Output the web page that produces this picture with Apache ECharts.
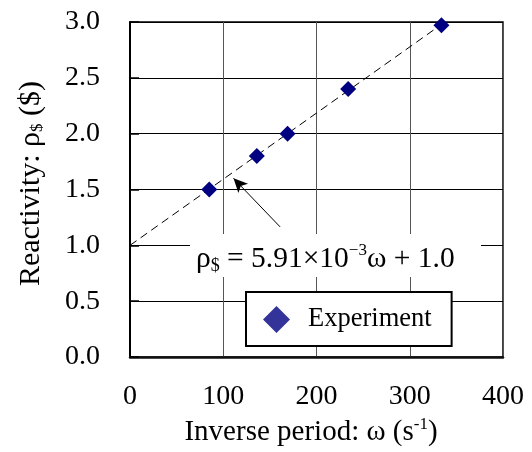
<!DOCTYPE html>
<html>
<head>
<meta charset="utf-8">
<script src="https://cdn.jsdelivr.net/npm/echarts@6/dist/echarts.min.js"></script>
<style>
    html, body { margin: 0; padding: 0; background: #fff; }
    #chart { width: 532px; height: 452px; }
</style>
</head>
<body>
<div id="chart"></div>
<script>
// data
const omega = [85, 136, 169, 234, 334];
const rho = [1.50, 1.80, 2.00, 2.40, 2.97];
// fitted line: rho = 5.91e-3 * omega + 1.0, drawn from its ends
const fitLine = [[0, 1.0], [336, 2.99]];
// arrow from the equation to the line
const arrowFrom = [161, 1.165];
const arrowTo = [111, 1.60];
const xTicks = [0, 100, 200, 300, 400];
const yTicks = [0, 0.5, 1.0, 1.5, 2.0, 2.5, 3.0];

const FONT = "Liberation Serif";

let chart = echarts.init(document.getElementById("chart"));

chart.setOption({
    animation: false,
    textStyle: { fontFamily: FONT, color: "#000" },
    grid: {
        left: 130, right: 29, top: 22, bottom: 95,
        show: true, borderColor: "#000", borderWidth: 1.5, backgroundColor: "transparent"
    },
    xAxis: {
        type: "value",
        min: xTicks[0], max: xTicks[xTicks.length - 1], interval: 100,
        name: "{t|Inverse period: ω (s}{sup|-1}{t|)}",
        nameLocation: "middle",
        nameGap: 58,
        nameTextStyle: {
            padding: [0, 11, 0, 0],
            rich: {
                t: { fontFamily: FONT, fontSize: 29, color: "#000" },
                sup: { fontFamily: FONT, fontSize: 17, color: "#000", verticalAlign: "top", padding: [0, 0, 15, 0] }
            }
        },
        axisLine: { lineStyle: { color: "#111", width: 2.5 } },
        axisTick: { show: false },
        axisLabel: { fontFamily: FONT, fontSize: 28, color: "#000", margin: 26 },
        splitLine: { lineStyle: { color: "#555", width: 1 } }
    },
    yAxis: {
        type: "value",
        min: yTicks[0], max: yTicks[yTicks.length - 1], interval: 0.5,
        name: "{t|Reactivity: ρ}{sub|$}{t| ($)}",
        nameLocation: "middle",
        nameGap: 84,
        nameTextStyle: {
            padding: [0, 0, 0, 12],
            rich: {
                t: { fontFamily: FONT, fontSize: 30, color: "#000" },
                sub: { fontFamily: FONT, fontSize: 17, color: "#000", verticalAlign: "bottom", padding: [10, 0, 0, 0] }
            }
        },
        axisLine: { show: true, lineStyle: { color: "#000", width: 2 } },
        axisTick: { show: true, inside: true, length: 9, lineStyle: { color: "#000", width: 1.5 } },
        axisLabel: { fontFamily: FONT, fontSize: 28, color: "#000", margin: 30, formatter: v => v.toFixed(1) },
        splitLine: { lineStyle: { color: "#000", width: 1 } }
    },
    legend: {
        data: [{ name: "Experiment", icon: "diamond", itemStyle: { color: "#333399", opacity: 1 } }],
        left: 246, top: 292,
        orient: "horizontal",
        itemWidth: 27, itemHeight: 27,
        padding: [14, 20, 13, 17],
        backgroundColor: "#fff",
        borderColor: "#000", borderWidth: 2,
        textStyle: { fontFamily: FONT, fontSize: 26.5, color: "#000", padding: [0, 0, 0, 13] }
    },
    graphic: [
        {
            type: "rect", z: 50,
            shape: { x: 190, y: 234, width: 291, height: 43 },
            style: { fill: "#fff" }
        },
        {
            type: "text", z: 51,
            x: 196, y: 259,
            style: {
                text: "{t|ρ}{sub|$}{t| = 5.91×10}{sup|−3}{t|ω + 1.0}",
                verticalAlign: "middle",
                rich: {
                    t: { fontFamily: FONT, fontSize: 29.5, fill: "#000" },
                    sub: { fontFamily: FONT, fontSize: 18, fill: "#000", verticalAlign: "bottom", padding: [12, 0, 0, 0] },
                    sup: { fontFamily: FONT, fontSize: 17, fill: "#000", verticalAlign: "top", padding: [0, 0, 16, 0] }
                }
            }
        }
    ],
    series: [
        {
            name: "fit",
            type: "line",
            data: fitLine,
            symbol: "none",
            silent: true,
            lineStyle: { color: "#000", width: 1, type: [8, 5] },
            markLine: {
                silent: true,
                symbol: ["none", "arrow"],
                symbolSize: [10, 14],
                label: { show: false },
                lineStyle: { color: "#000", width: 1, type: "solid" },
                data: [[{ coord: arrowFrom }, { coord: arrowTo }]]
            }
        },
        {
            name: "Experiment",
            type: "scatter",
            data: omega.map((w, i) => [w, rho[i]]),
            symbol: "diamond",
            symbolSize: 16,
            itemStyle: { color: "#000080", opacity: 1 },
            z: 5
        }
    ]
});
</script>
</body>
</html>
